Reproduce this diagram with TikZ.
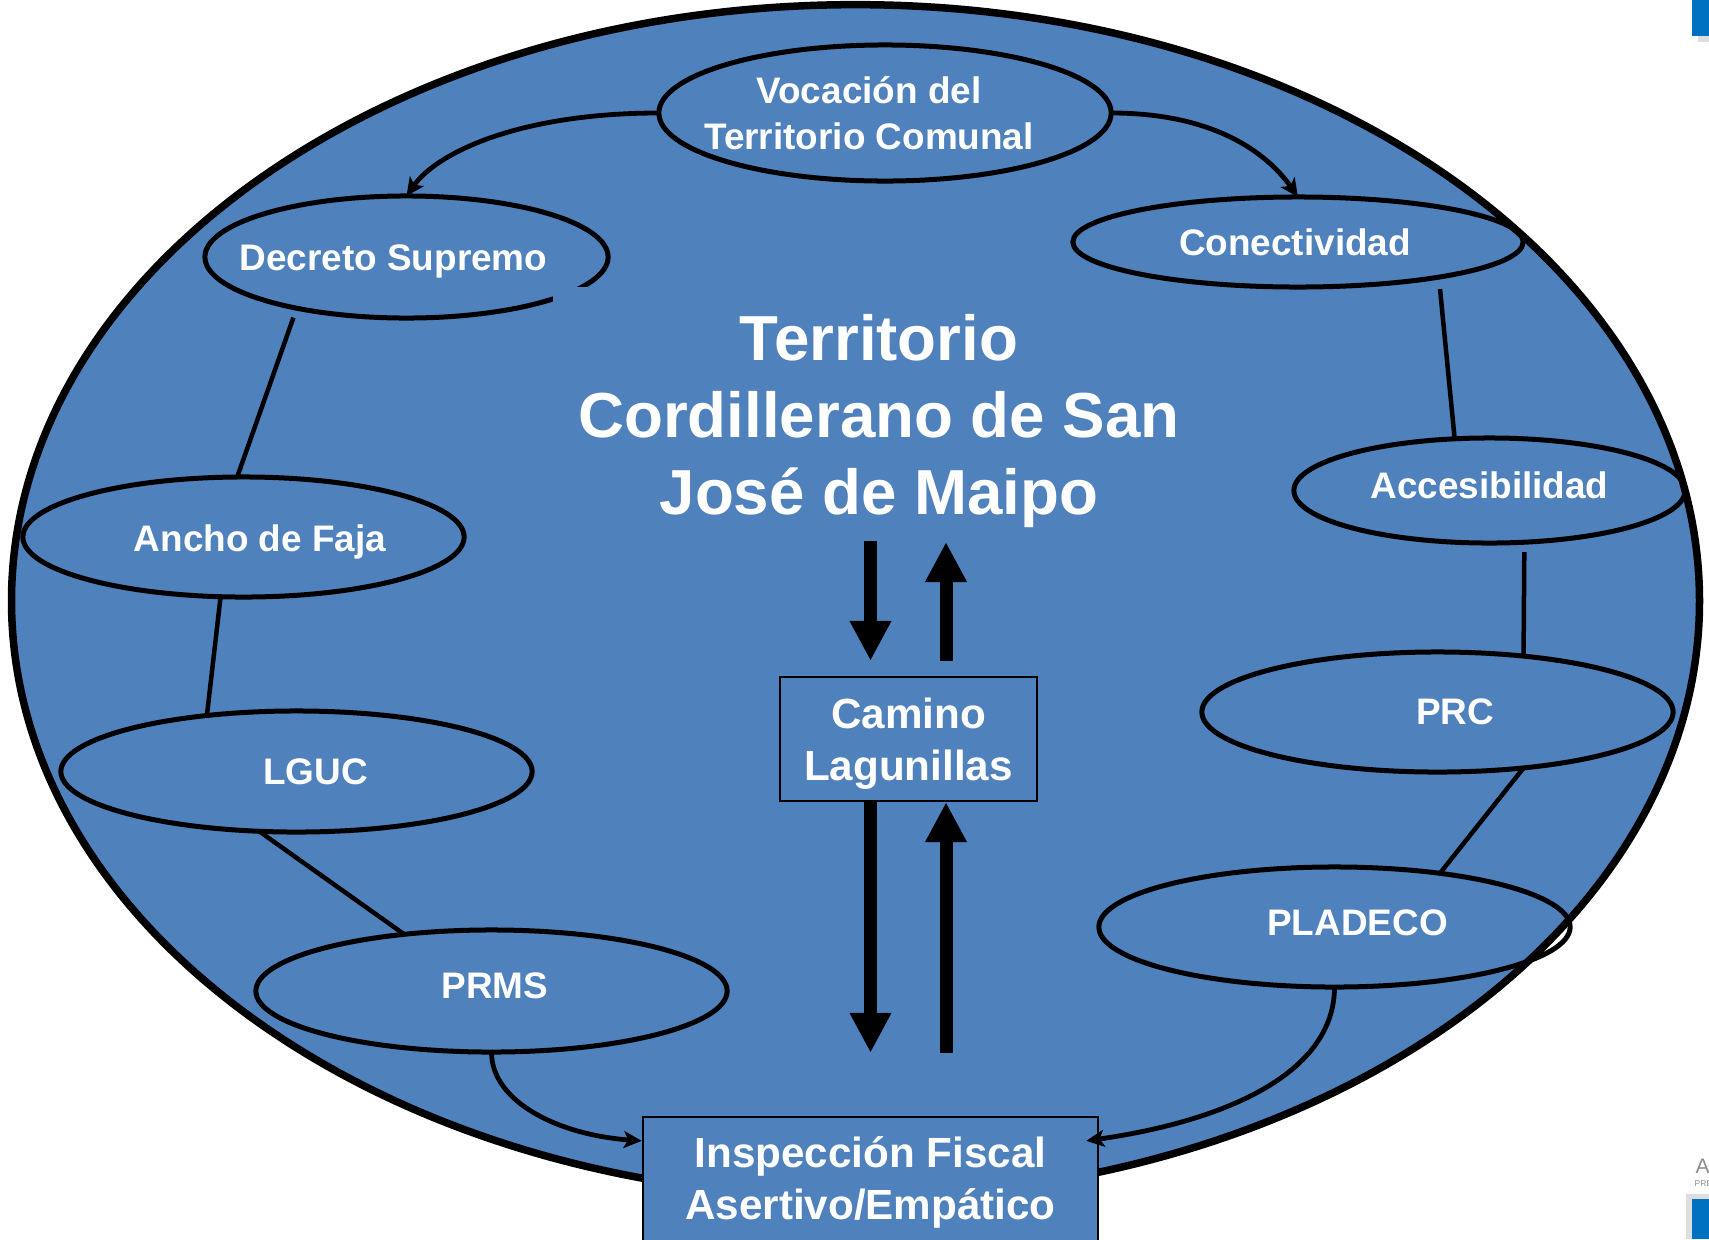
\documentclass[tikz,border=0pt]{standalone}
\usepackage{fontspec}
\setmainfont{Liberation Sans}
\usetikzlibrary{shapes.geometric,arrows.meta}
\definecolor{slideblue}{HTML}{4F81BD}
\definecolor{barblue}{HTML}{0070C0}

\begin{document}
\begin{tikzpicture}[x=0.01cm,y=-0.01cm,
    oval/.style={ellipse,draw,line width=0.05cm,inner sep=0pt,outer sep=0pt},
    lbl/.style={text=white,font=\bfseries\fontsize{10.5}{13.1}\selectfont,align=center},
    card/.style={rectangle,draw,line width=0.022cm,fill=slideblue,text=white,align=center,
        font=\bfseries\fontsize{12}{14.8}\selectfont,inner sep=0pt},
    link/.style={line width=0.045cm},
    flow/.style={line width=0.048cm,-{Stealth[length=0.18cm,width=0.17cm,inset=0.045cm]}},
    fat/.style={line width=0.13cm,-{Triangle[length=0.4cm,width=0.39cm]}}]

    \useasboundingbox (0,0) rectangle (1709,1239);
    \clip (0,0) rectangle (1709,1239);

    % territorio
    \draw [fill=slideblue,line width=0.075cm] (855.5,601) ellipse [x radius=8.435cm, y radius=5.96cm];

    \node [text=white,font=\bfseries\fontsize{18.1}{21.9}\selectfont,align=center] (terr) at (879,421.5)
        {Territorio\\Cordillerano de San\\José de Maipo};

    % ovalos
    \node [oval,minimum width=4.52cm,minimum height=1.36cm,
        label={[lbl,xshift=-0.16cm]center:Vocación del\\Territorio Comunal}] (voc) at (885,113) {};
    \node [oval,minimum width=4.03cm,minimum height=1.22cm,
        label={[lbl,xshift=-0.13cm,yshift=-0.04cm]center:Decreto Supremo}] (decreto) at (406.5,257) {};
    \node [oval,minimum width=4.50cm,minimum height=0.90cm,
        label={[lbl,xshift=-0.03cm]center:Conectividad}] (conect) at (1298,242) {};
    \node [oval,minimum width=3.91cm,minimum height=1.05cm,
        label={[lbl,yshift=0.055cm]center:Accesibilidad}] (acces) at (1489.5,490.5) {};
    \node [oval,minimum width=4.41cm,minimum height=1.20cm,
        label={[lbl,xshift=0.165cm,yshift=-0.05cm]center:Ancho de Faja}] (ancho) at (243.5,537) {};
    \node [oval,minimum width=4.71cm,minimum height=1.21cm,
        label={[lbl,xshift=0.19cm]center:LGUC}] (lguc) at (296.5,771.5) {};
    \node [oval,minimum width=4.71cm,minimum height=1.20cm,
        label={[lbl,xshift=0.175cm]center:PRC}] (prc) at (1437.5,712) {};
    \node [oval,minimum width=4.71cm,minimum height=1.20cm,
        label={[lbl,xshift=0.23cm,yshift=0.04cm]center:PLADECO}] (pladeco) at (1334.5,927) {};
    \node [oval,minimum width=4.71cm,minimum height=1.22cm,
        label={[lbl,xshift=0.035cm,yshift=0.05cm]center:PRMS}] (prms) at (491.5,991) {};

    % hueco en el borde de decreto
    \fill [slideblue] (553,287) rectangle (592,306);

    % cajas
    \node [card,minimum width=2.57cm,minimum height=1.24cm,text depth=0pt] (camino) at (908.5,739) {Camino\\Lagunillas};
    \node [card,minimum width=4.55cm,minimum height=1.30cm] (insp) at (870.5,1182) {Inspección Fiscal\\Asertivo/Empático};

    % flechas gruesas
    \coordinate (dn) at (870.5,541);
    \coordinate (up) at (946,542);
    \draw [fat,shorten >=0.15cm] (dn) -- (dn |- camino.north);
    \draw [fat,shorten <=0.15cm] (up |- camino.north) -- (up);
    \draw [fat,shorten >=0.63cm] (dn |- camino.south) -- (dn |- insp.north);
    \draw [fat,shorten <=0.63cm] (up |- insp.north) -- (up |- camino.south);

    % curvas
    \draw [flow] (voc.west) .. controls +(-138,0) and +(31,-44) .. (decreto.north);
    \draw [flow] (voc.east) .. controls +(103,0) and +(-31,-44) .. (conect.north);
    \draw [flow] (prms.south) .. controls +(0,50) and +(-83,-6) .. ([yshift=-0.25cm]insp.north west);
    \draw [flow] (pladeco.south) .. controls +(0,86) and +(140,-20) .. ([xshift=-0.13cm,yshift=-0.25cm]insp.north east);

    % lineas
    \draw [link,shorten <=0.1cm] (decreto.205) -- (ancho.96);
    \draw [link] (ancho.249) -- (lguc.148);
    \draw [link] (lguc.238) -- (prms.147);
    \draw [link,shorten <=0.12cm] (conect.-14) -- (acces.124);
    \draw [link,shorten <=0.1cm] (acces.-56) -- (prc.33);
    \draw [link] (prc.-33) -- (pladeco.27);

    % esquinas
    \fill [barblue] (1692,0) rectangle (1709,36);
    \fill [black!13] (1698,36) rectangle (1709,42);
    \fill [black!13] (1686,1194) rectangle (1709,1239);
    \fill [barblue] (1692,1199) rectangle (1709,1239);
    \node [text=black!45,font=\fontsize{6}{6}\selectfont,anchor=base west,inner sep=0pt] (marca) at (1695,1173) {A};
    \node [text=black!45,font=\fontsize{2.4}{3}\selectfont,anchor=base west,inner sep=0pt] (marcb) at (1694,1186) {PRE};
\end{tikzpicture}
\end{document}
